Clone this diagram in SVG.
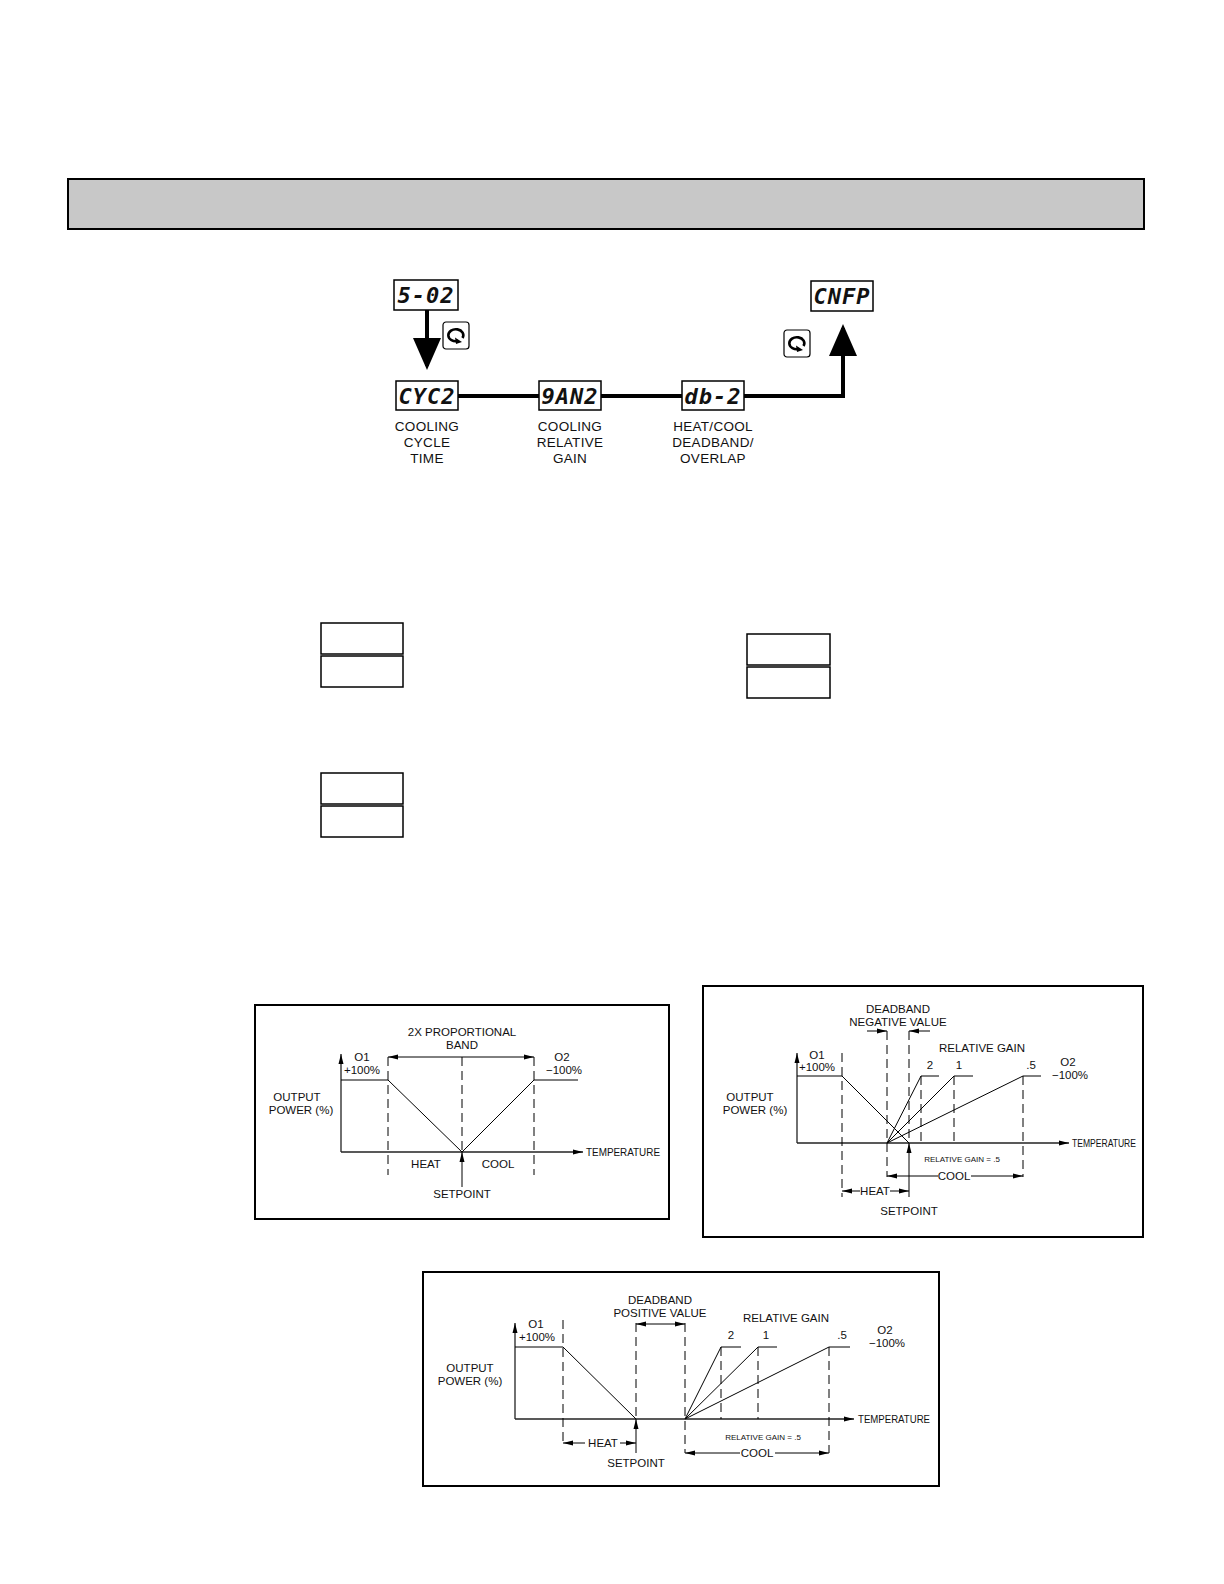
<svg xmlns="http://www.w3.org/2000/svg" width="1224" height="1584" viewBox="0 0 1224 1584">
<style>
text{font-family:"Liberation Sans",Arial,sans-serif;fill:#111}
.lbl{font-size:13.5px;text-anchor:middle;letter-spacing:0.3px}
.seg{font-family:"DejaVu Sans Mono",monospace;font-weight:bold;font-style:italic;font-size:22px;text-anchor:middle;letter-spacing:1px}
.box{fill:#fff;stroke:#000;stroke-width:1.5}
.flow{fill:none;stroke:#000;stroke-width:4}
.frame{fill:#fff;stroke:#000;stroke-width:2}
.ax{fill:none;stroke:#222;stroke-width:1.3}
.ln{fill:none;stroke:#000;stroke-width:1}
.dash{fill:none;stroke:#000;stroke-width:1;stroke-dasharray:9,5}
.t{font-size:11.5px;text-anchor:middle}
.tt{font-size:11.5px;text-anchor:start}
.ts{font-size:8px;text-anchor:middle}
</style>
<defs>
<marker id="big" markerWidth="8" markerHeight="8" refX="7" refY="4" orient="auto" markerUnits="strokeWidth"><path d="M0,0.5 L8,4 L0,7.5 Z" fill="#000"/></marker>
<marker id="sm" markerWidth="10" markerHeight="6" refX="10" refY="3" orient="auto" markerUnits="userSpaceOnUse"><path d="M0,0.5 L10,3 L0,5.5 Z" fill="#000"/></marker>
<g id="cyc"><rect x="0" y="0" width="26" height="27" rx="3" fill="#fff" stroke="#000" stroke-width="1.2"/><path d="M15,19 A7.5,6 0 1 1 19.5,16" fill="none" stroke="#000" stroke-width="2.6"/><path d="M12,15.5 L19,20 L13,22 Z" fill="#000"/></g>
</defs>
<rect x="68" y="179" width="1076" height="50" fill="#c8c8c8" stroke="#000" stroke-width="2"/>

<g id="connectors">
<line class="flow" x1="427" y1="310" x2="427" y2="366" marker-end="url(#big)"/>
<line class="flow" x1="458" y1="396" x2="539" y2="396"/>
<line class="flow" x1="601" y1="396" x2="682" y2="396"/>
<polyline class="flow" points="744,396 843,396 843,328" marker-end="url(#big)"/>
</g>
<use href="#cyc" x="443" y="322"/>
<use href="#cyc" x="784" y="330"/>
<g id="n-s02"><rect class="box" x="394" y="280" width="64" height="30"/><text class="seg" x="426" y="303">5-02</text></g>
<g id="n-cyc2"><rect class="box" x="396" y="381" width="62" height="29"/><text class="seg" x="427" y="404">CYC2</text>
<text class="lbl" x="427" y="431">COOLING</text><text class="lbl" x="427" y="447">CYCLE</text><text class="lbl" x="427" y="463">TIME</text></g>
<g id="n-gan2"><rect class="box" x="539" y="381" width="62" height="29"/><text class="seg" x="570" y="404">9AN2</text>
<text class="lbl" x="570" y="431">COOLING</text><text class="lbl" x="570" y="447">RELATIVE</text><text class="lbl" x="570" y="463">GAIN</text></g>
<g id="n-db2"><rect class="box" x="682" y="381" width="62" height="29"/><text class="seg" x="713" y="404">db-2</text>
<text class="lbl" x="713" y="431">HEAT/COOL</text><text class="lbl" x="713" y="447">DEADBAND/</text><text class="lbl" x="713" y="463">OVERLAP</text></g>
<g id="n-cnfp"><rect class="box" x="811" y="281" width="62" height="30"/><text class="seg" x="842" y="304">CNFP</text></g>

<g id="blank-boxes">
<rect class="box" x="321" y="623" width="82" height="31"/><rect class="box" x="321" y="656" width="82" height="31"/>
<rect class="box" x="747" y="634" width="83" height="31"/><rect class="box" x="747" y="667" width="83" height="31"/>
<rect class="box" x="321" y="773" width="82" height="31"/><rect class="box" x="321" y="806" width="82" height="31"/>
</g>

<g id="chart1">
<rect class="frame" x="255" y="1005" width="414" height="214"/>
<line class="ax" x1="341" y1="1152" x2="341" y2="1054" marker-end="url(#sm)"/>
<line class="ax" x1="341" y1="1152" x2="583" y2="1152" marker-end="url(#sm)"/>
<polyline class="ln" points="341,1080 388,1080 462,1152 534,1080 578,1080"/>
<line class="dash" x1="388" y1="1057" x2="388" y2="1175"/>
<line class="dash" x1="534" y1="1057" x2="534" y2="1175"/>
<line class="dash" x1="462" y1="1057" x2="462" y2="1152"/>
<line class="ln" x1="420" y1="1057" x2="388" y2="1057" marker-end="url(#sm)"/>
<line class="ln" x1="420" y1="1057" x2="534" y2="1057" marker-end="url(#sm)"/>
<line class="ln" x1="462" y1="1187" x2="462" y2="1152" marker-end="url(#sm)"/>
<text class="t" x="462" y="1036">2X PROPORTIONAL</text><text class="t" x="462" y="1049">BAND</text>
<text class="t" x="362" y="1061">O1</text><text class="t" x="362" y="1074">+100%</text>
<text class="t" x="562" y="1061">O2</text><text class="t" x="564" y="1074">−100%</text>
<text class="t" x="297" y="1101">OUTPUT</text><text class="t" x="301" y="1114">POWER (%)</text>
<text class="tt" x="586" y="1156" textLength="74" lengthAdjust="spacingAndGlyphs">TEMPERATURE</text>
<text class="t" x="426" y="1168">HEAT</text><text class="t" x="498" y="1168">COOL</text>
<text class="t" x="462" y="1198">SETPOINT</text>
</g>

<g id="chart2">
<rect class="frame" x="703" y="986" width="440" height="251"/>
<line class="ax" x1="797" y1="1143" x2="797" y2="1053" marker-end="url(#sm)"/>
<line class="ax" x1="797" y1="1143" x2="1069" y2="1143" marker-end="url(#sm)"/>
<polyline class="ln" points="797,1076 842,1076 909,1143"/>
<line class="dash" x1="842" y1="1053" x2="842" y2="1197"/>
<line class="dash" x1="909" y1="1031" x2="909" y2="1143"/>
<line class="dash" x1="887" y1="1031" x2="887" y2="1177"/>
<polyline class="ln" points="887,1143 921,1076 939,1076"/>
<polyline class="ln" points="887,1143 954,1076 973,1076"/>
<polyline class="ln" points="887,1143 1023,1076 1041,1076"/>
<line class="dash" x1="921" y1="1076" x2="921" y2="1143"/>
<line class="dash" x1="954" y1="1076" x2="954" y2="1143"/>
<line class="dash" x1="1023" y1="1076" x2="1023" y2="1177"/>
<line class="ln" x1="867" y1="1031" x2="887" y2="1031" marker-end="url(#sm)"/>
<line class="ln" x1="930" y1="1031" x2="909" y2="1031" marker-end="url(#sm)"/>
<line class="ln" x1="909" y1="1197" x2="909" y2="1143" marker-end="url(#sm)"/>
<line class="ln" x1="938" y1="1176" x2="887" y2="1176" marker-end="url(#sm)"/>
<line class="ln" x1="971" y1="1176" x2="1023" y2="1176" marker-end="url(#sm)"/>
<line class="ln" x1="860" y1="1191" x2="842" y2="1191" marker-end="url(#sm)"/>
<line class="ln" x1="890" y1="1191" x2="909" y2="1191" marker-end="url(#sm)"/>
<text class="t" x="898" y="1013">DEADBAND</text><text class="t" x="898" y="1026">NEGATIVE VALUE</text>
<text class="t" x="982" y="1052">RELATIVE GAIN</text>
<text class="t" x="930" y="1069">2</text><text class="t" x="959" y="1069">1</text><text class="t" x="1031" y="1069">.5</text>
<text class="t" x="1068" y="1066">O2</text><text class="t" x="1070" y="1079">−100%</text>
<text class="t" x="817" y="1059">O1</text><text class="t" x="817" y="1071">+100%</text>
<text class="t" x="750" y="1101">OUTPUT</text><text class="t" x="755" y="1114">POWER (%)</text>
<text class="tt" x="1072" y="1147" textLength="64" lengthAdjust="spacingAndGlyphs">TEMPERATURE</text>
<text class="ts" x="962" y="1162">RELATIVE GAIN = .5</text>
<text class="t" x="954" y="1180">COOL</text>
<text class="t" x="875" y="1195">HEAT</text>
<text class="t" x="909" y="1215">SETPOINT</text>
</g>

<g id="chart3">
<rect class="frame" x="423" y="1272" width="516" height="214"/>
<line class="ax" x1="515" y1="1419" x2="515" y2="1323" marker-end="url(#sm)"/>
<line class="ax" x1="515" y1="1419" x2="854" y2="1419" marker-end="url(#sm)"/>
<polyline class="ln" points="515,1347 563,1347 636,1419"/>
<line class="dash" x1="563" y1="1320" x2="563" y2="1443"/>
<line class="dash" x1="636" y1="1323" x2="636" y2="1419"/>
<line class="dash" x1="685" y1="1323" x2="685" y2="1453"/>
<polyline class="ln" points="685,1419 721,1347 741,1347"/>
<polyline class="ln" points="685,1419 758,1347 777,1347"/>
<polyline class="ln" points="685,1419 829,1347 850,1347"/>
<line class="dash" x1="721" y1="1347" x2="721" y2="1419"/>
<line class="dash" x1="758" y1="1347" x2="758" y2="1419"/>
<line class="dash" x1="829" y1="1347" x2="829" y2="1453"/>
<line class="ln" x1="660" y1="1324" x2="636" y2="1324" marker-end="url(#sm)"/>
<line class="ln" x1="660" y1="1324" x2="685" y2="1324" marker-end="url(#sm)"/>
<line class="ln" x1="636" y1="1453" x2="636" y2="1419" marker-end="url(#sm)"/>
<line class="ln" x1="585" y1="1443" x2="563" y2="1443" marker-end="url(#sm)"/>
<line class="ln" x1="620" y1="1443" x2="636" y2="1443" marker-end="url(#sm)"/>
<line class="ln" x1="740" y1="1453" x2="685" y2="1453" marker-end="url(#sm)"/>
<line class="ln" x1="775" y1="1453" x2="829" y2="1453" marker-end="url(#sm)"/>
<text class="t" x="660" y="1304">DEADBAND</text><text class="t" x="660" y="1317">POSITIVE VALUE</text>
<text class="t" x="786" y="1322">RELATIVE GAIN</text>
<text class="t" x="731" y="1339">2</text><text class="t" x="766" y="1339">1</text><text class="t" x="842" y="1339">.5</text>
<text class="t" x="885" y="1334">O2</text><text class="t" x="887" y="1347">−100%</text>
<text class="t" x="536" y="1328">O1</text><text class="t" x="537" y="1341">+100%</text>
<text class="t" x="470" y="1372">OUTPUT</text><text class="t" x="470" y="1385">POWER (%)</text>
<text class="tt" x="858" y="1423" textLength="72" lengthAdjust="spacingAndGlyphs">TEMPERATURE</text>
<text class="ts" x="763" y="1440">RELATIVE GAIN = .5</text>
<text class="t" x="757" y="1457">COOL</text>
<text class="t" x="603" y="1447">HEAT</text>
<text class="t" x="636" y="1467">SETPOINT</text>
</g>
</svg>
